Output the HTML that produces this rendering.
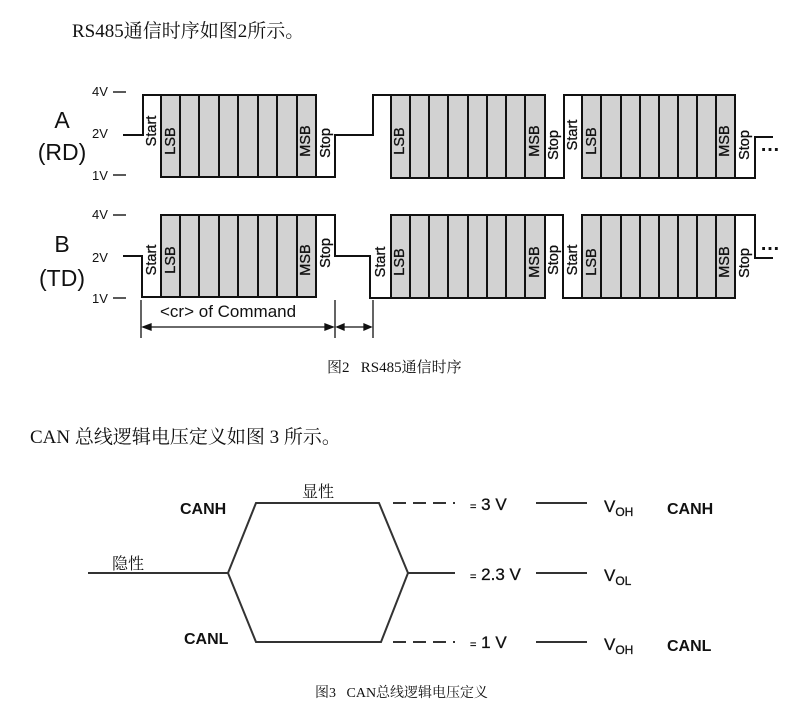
<!DOCTYPE html>
<html><head><meta charset="utf-8"><style>
html,body{margin:0;padding:0;background:#fff;}
svg{display:block;}
.s{font-family:"Liberation Serif","Noto Serif CJK SC",serif;fill:#111;}
.a{font-family:"Liberation Sans",sans-serif;fill:#111;}
.r{font-family:"Liberation Sans",sans-serif;font-size:14.5px;fill:#111;stroke:#111;stroke-width:0.3;text-anchor:middle;dominant-baseline:central;}
</style></head><body>
<svg width="800" height="727" viewBox="0 0 800 727" xmlns="http://www.w3.org/2000/svg">
<text class="s" x="72" y="37" font-size="19">RS485通信时序如图2所示。</text>

<g class="a" font-size="13">
<text x="92" y="96">4V</text><text x="92" y="138">2V</text><text x="92" y="180">1V</text>
<text x="92" y="219">4V</text><text x="92" y="262">2V</text><text x="92" y="303">1V</text>
</g>
<g stroke="#222" stroke-width="1.5">
<line x1="113" y1="92" x2="126" y2="92"/><line x1="113" y1="175" x2="126" y2="175"/>
<line x1="113" y1="215" x2="126" y2="215"/><line x1="113" y1="298" x2="126" y2="298"/>
</g>
<g class="a" font-size="23" text-anchor="middle">
<text x="62" y="128">A</text><text x="62" y="160">(RD)</text>
<text x="62" y="252">B</text><text x="62" y="286">(TD)</text>
</g>

<g fill="#d2d2d2" stroke="#111" stroke-width="2">
<rect x="161" y="95" width="155" height="82"/>
<rect x="391" y="95" width="154" height="83"/>
<rect x="582" y="95" width="153" height="83"/>
<rect x="161" y="215" width="155" height="82"/>
<rect x="391" y="215" width="154" height="83"/>
<rect x="582" y="215" width="153" height="83"/>
</g>
<g stroke="#111" stroke-width="2">
<path d="M180 95V177M199 95V177M219 95V177M238 95V177M258 95V177M277 95V177M297 95V177"/>
<path d="M410 95V178M429 95V178M448 95V178M468 95V178M487 95V178M506 95V178M525 95V178"/>
<path d="M601 95V178M621 95V178M640 95V178M659 95V178M678 95V178M697 95V178M716 95V178"/>
<path d="M180 215V297M199 215V297M219 215V297M238 215V297M258 215V297M277 215V297M297 215V297"/>
<path d="M410 215V298M429 215V298M448 215V298M468 215V298M487 215V298M506 215V298M525 215V298"/>
<path d="M601 215V298M621 215V298M640 215V298M659 215V298M678 215V298M697 215V298M716 215V298"/>
</g>
<g fill="none" stroke="#111" stroke-width="2">
<path d="M123 135H143V95H161M316 177H335V135H373V95H391M545 178H564V95H582M735 178H755V137H773"/>
<path d="M123 256H142V297H161M316 215H335V256H370V298H391M545 215H563V298H582M735 215H755V258H773"/>
</g>
<g class="a" font-size="20" font-weight="bold"><text x="760" y="151">…</text><text x="760" y="250">…</text></g>

<g class="r">
<text transform="translate(152,131) rotate(-90)">Start</text>
<text transform="translate(171,141) rotate(-90)">LSB</text>
<text transform="translate(306,141) rotate(-90)">MSB</text>
<text transform="translate(326,143) rotate(-90)">Stop</text>
<text transform="translate(400,141) rotate(-90)">LSB</text>
<text transform="translate(535,141) rotate(-90)">MSB</text>
<text transform="translate(554,145) rotate(-90)">Stop</text>
<text transform="translate(573,135) rotate(-90)">Start</text>
<text transform="translate(592,141) rotate(-90)">LSB</text>
<text transform="translate(725,141) rotate(-90)">MSB</text>
<text transform="translate(745,145) rotate(-90)">Stop</text>

<text transform="translate(152,260) rotate(-90)">Start</text>
<text transform="translate(171,260) rotate(-90)">LSB</text>
<text transform="translate(306,260) rotate(-90)">MSB</text>
<text transform="translate(326,253) rotate(-90)">Stop</text>
<text transform="translate(381,262) rotate(-90)">Start</text>
<text transform="translate(400,262) rotate(-90)">LSB</text>
<text transform="translate(535,262) rotate(-90)">MSB</text>
<text transform="translate(554,260) rotate(-90)">Stop</text>
<text transform="translate(573,260) rotate(-90)">Start</text>
<text transform="translate(592,262) rotate(-90)">LSB</text>
<text transform="translate(725,262) rotate(-90)">MSB</text>
<text transform="translate(745,263) rotate(-90)">Stop</text>
</g>

<g stroke="#111" stroke-width="1.3" fill="#111">
<line x1="141" y1="300" x2="141" y2="338"/><line x1="335" y1="300" x2="335" y2="338"/><line x1="373" y1="300" x2="373" y2="338"/>
<line x1="143" y1="327" x2="333" y2="327"/><line x1="337" y1="327" x2="371" y2="327"/>
<path d="M143 327l8-3v6zM333 327l-8-3v6zM337 327l7-3v6zM371 327l-7-3v6z"/>
</g>
<text class="a" x="160" y="317" font-size="17">&lt;cr&gt; of Command</text>

<text class="s" x="327" y="372" font-size="15">图2 &#160; RS485通信时序</text>
<text class="s" x="30" y="443" font-size="19">CAN 总线逻辑电压定义如图 3 所示。</text>

<g fill="none" stroke="#333" stroke-width="2">
<path d="M88 573H228L256 503H379L408 573L381 642H256L228 573"/>
<path d="M408 573H455"/>
<path d="M393 503H455M393 642H455" stroke-dasharray="13,7"/>
<path d="M536 503H587M536 573H587M536 642H587"/>
</g>
<g class="a" font-weight="bold" font-size="16">
<text x="180" y="514">CANH</text><text x="184" y="644">CANL</text>
<text x="667" y="514">CANH</text><text x="667" y="651">CANL</text>
</g>
<g class="a" font-size="17" stroke="#111" stroke-width="0.3">
<text x="470" y="510"><tspan font-size="11">=</tspan> 3 V</text>
<text x="470" y="580"><tspan font-size="11">=</tspan> 2.3 V</text>
<text x="470" y="648"><tspan font-size="11">=</tspan> 1 V</text>
<text x="604" y="512">V<tspan font-size="12" dy="4">OH</tspan></text>
<text x="604" y="581">V<tspan font-size="12" dy="4">OL</tspan></text>
<text x="604" y="650">V<tspan font-size="12" dy="4">OH</tspan></text>
</g>
<g class="s" font-size="16">
<text x="302" y="497">显性</text><text x="112" y="569">隐性</text>
</g>
<text class="s" x="315" y="697" font-size="14">图3 &#160; CAN总线逻辑电压定义</text>
</svg>
</body></html>
